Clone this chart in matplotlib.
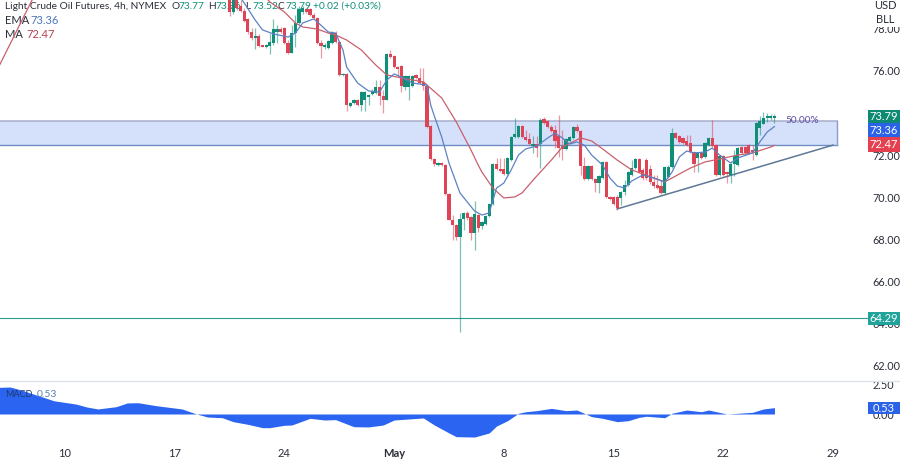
import matplotlib
matplotlib.use("Agg")
import matplotlib.pyplot as plt
from matplotlib.patches import Rectangle
from matplotlib.lines import Line2D

plt.rcParams['font.family'] = ['Lato', 'DejaVu Sans']

first_bar = 45
opens = [79.75,78.80,79.51,79.09,78.85,78.47,77.85,77.57,77.66,77.19,77.14,77.19,77.33,77.85,77.99,78.04,77.33,76.85,77.80,78.28,
         78.80,78.94,78.94,78.66,78.52,77.33,77.14,77.09,77.33,77.80,77.38,75.81,75.86,74.34,74.48,74.62,74.38,74.62,74.76,74.91,
         74.95,75.24,74.81,74.62,76.81,76.71,76.19,76.24,75.24,75.24,75.29,75.81,75.67,75.48,75.29,73.39,71.82,71.53,71.63,71.53,
         70.16,68.92,68.69,68.12,68.97,69.26,69.07,68.30,69.16,68.64,68.73,69.11,69.68,71.58,71.35,71.35,71.11,71.77,72.87,72.87,
         73.39,72.87,72.77,72.44,72.53,72.53,73.72,73.62,73.34,73.20,72.91,72.44,72.30,72.68,72.82,73.34,73.15,71.49,70.87,71.49,
         70.87,70.68,70.92,71.68,70.02,70.02,70.02,69.97,70.25,70.59,71.06,71.39,71.82,71.30,71.77,71.35,70.73,70.59,70.54,70.21,
         70.97,71.44,73.05,72.91,72.82,72.68,72.58,72.15,71.87,72.11,71.92,72.48,72.82,72.48,71.06,71.96,71.20,71.06,71.58,71.53,
         72.39,72.39,72.48,72.25,72.01,73.29,73.48,73.77,73.77,73.77]
highs = [79.90,79.70,79.70,79.37,78.99,78.52,78.04,78.04,77.76,77.23,77.28,77.80,78.47,78.18,78.09,78.09,77.47,78.18,78.66,79.09,
         79.09,78.99,78.99,78.75,78.56,77.47,77.33,77.47,77.90,77.90,77.42,75.90,75.90,74.53,74.67,74.67,75.05,75.05,74.91,75.14,
         75.57,75.57,75.10,76.85,77.00,76.76,76.24,76.28,75.81,75.81,75.81,75.86,76.14,76.14,75.33,73.43,71.87,71.68,71.68,71.58,
         70.21,69.16,68.73,69.26,69.30,69.35,69.11,69.83,69.21,68.88,69.16,69.73,71.63,71.87,71.87,71.87,71.92,72.91,73.77,73.43,
         73.43,73.20,73.06,72.91,72.91,73.77,73.81,73.67,73.43,73.43,73.91,73.20,72.82,72.91,73.39,73.48,73.20,71.92,71.53,71.53,
         70.92,71.06,71.73,71.73,70.06,70.06,70.11,70.30,70.82,71.25,71.77,71.87,71.87,71.39,71.87,71.54,71.06,71.06,70.82,71.49,
         71.54,73.29,73.10,72.96,72.87,72.96,72.96,72.20,72.15,72.15,72.63,72.87,73.67,72.53,72.01,72.01,71.25,71.63,72.25,72.39,
         72.44,72.44,72.53,72.48,73.58,73.86,74.05,74.00,73.96,73.96]
lows = [78.61,78.70,78.90,78.80,78.33,77.76,77.47,77.04,77.14,77.14,77.09,76.81,77.23,77.33,77.80,77.28,76.81,76.85,77.14,78.23,
        78.71,78.75,78.61,78.47,77.28,76.62,77.04,77.04,77.28,77.33,75.76,75.76,74.10,74.29,74.43,74.34,74.10,74.10,74.38,74.86,
        74.91,74.38,74.00,74.62,76.62,76.14,75.76,75.00,75.10,74.62,75.24,75.62,75.38,75.10,73.29,71.77,71.49,71.49,71.49,70.11,
        68.92,67.97,67.97,63.61,68.45,68.92,67.97,67.50,68.35,68.50,68.69,69.07,69.64,71.30,71.20,71.06,71.06,71.73,72.82,72.82,
        72.82,72.68,72.48,72.11,71.92,71.39,73.48,73.29,73.10,72.34,71.92,71.77,72.25,72.63,72.77,73.10,71.06,70.82,70.82,70.82,
        70.25,70.21,70.87,69.97,69.87,69.64,69.40,69.64,70.11,70.54,71.01,71.35,71.16,70.82,70.82,70.63,70.44,70.40,70.16,70.16,
        70.92,71.39,72.77,72.58,72.53,72.44,72.11,71.20,71.20,71.82,71.87,72.44,72.39,71.01,71.01,71.01,70.68,70.68,71.01,71.49,
        72.06,72.01,72.06,71.77,71.96,72.96,73.48,73.58,73.67,73.52]
closes = [78.80,79.46,78.99,78.85,78.37,77.85,77.57,77.66,77.19,77.14,77.23,77.38,77.99,77.99,77.85,77.33,76.85,77.80,78.28,78.94,
          78.99,78.80,78.66,78.52,77.33,77.19,77.23,77.42,77.80,77.38,75.81,75.86,74.38,74.48,74.62,74.38,75.00,75.00,74.86,75.00,
          75.24,74.81,74.62,76.81,76.66,76.19,76.09,75.29,75.76,75.76,75.76,75.67,75.43,75.29,73.34,71.82,71.58,71.63,71.53,70.16,
          68.92,68.69,68.12,68.97,69.26,69.02,68.30,69.21,68.54,68.83,69.11,69.68,71.58,71.35,71.25,71.11,71.87,72.87,73.01,73.39,
          72.87,72.72,72.53,72.53,72.34,73.67,73.53,73.34,73.15,72.68,72.34,72.30,72.77,72.87,73.34,73.15,71.49,70.87,71.49,70.87,
          70.68,71.01,71.68,70.02,69.92,69.68,69.49,70.25,70.59,71.20,71.39,71.82,71.20,70.92,70.92,70.73,70.54,70.44,70.21,71.44,
          71.44,73.05,72.82,72.63,72.58,72.48,72.15,71.58,72.11,71.87,72.58,72.82,72.44,71.06,71.96,71.06,71.11,71.58,71.96,72.34,
          72.11,72.11,72.11,72.15,73.53,73.62,73.77,73.81,73.81,73.79]

ma_bars = [-18,-9,-7,10,30,50,56,60,63,65,69,72,74,77,81,85,88,92,98,103,107,111,113,114,117,120,123,125,128,133,136,141,144,147,151,155,158,164,166,171,175,179,184,188,193,194]
ma_vals = [76.24,79.37,80.5,82.5,83.0,80.5,79.28,78.80,78.28,78.09,77.99,77.80,77.71,77.47,77.00,76.28,75.81,75.67,75.48,74.72,73.58,72.25,71.53,71.20,70.44,69.97,70.02,70.21,70.82,71.77,72.39,72.82,72.68,72.30,71.77,71.30,71.11,70.73,70.92,71.39,71.68,71.82,72.01,72.11,72.39,72.47]
ema_bars = [44,49,52,54,57,61,63,65,68,69,72,74,76,77,80,83,86,88,90,92,95,99,100,101,103,105,108,112,114,116,118,120,122,124,126,129,132,134,136,138,140,142,144,147,149,151,153,155,158,161,164,166,168,170,172,175,177,179,182,184,188,190,192,194]
ema_vals = [80.5,79.23,78.42,77.95,77.76,77.61,77.80,78.28,78.47,78.33,77.85,77.80,77.00,76.19,75.43,75.05,75.00,75.57,75.86,75.71,75.43,75.33,74.38,73.86,72.87,71.63,70.21,69.35,69.16,69.26,70.44,70.68,71.30,72.01,72.30,72.44,72.82,73.05,72.82,72.53,72.63,72.48,72.01,71.53,70.92,70.54,70.44,70.78,71.06,70.92,70.73,71.20,71.92,72.20,72.11,72.15,72.34,72.01,71.63,71.87,72.11,72.63,73.10,73.36]

macd_bars = [-18,-15,-12,-7,-3,3,6,9,14,17,20,25,32,36,39,43,46,50,54,56,60,62,67,71,74,79,83,87,90,98,101,105,107,112,116,118,121,124,126,129,133,137,140,144,147,151,154,157,159,164,166,170,174,176,181,184,188,191,194]
macd_vals = [2.22,2.25,2.0,1.5,1.1,0.83,0.58,0.42,0.61,0.92,0.94,0.69,0.42,0.0,-0.25,-0.31,-0.64,-0.86,-1.14,-1.14,-0.94,-0.92,-0.36,-0.5,-0.47,-1.06,-1.08,-0.92,-0.5,-0.33,-0.92,-1.58,-1.89,-1.92,-1.58,-1.0,-0.56,0.06,0.19,0.28,0.47,0.28,0.33,-0.22,-0.36,-0.64,-0.56,-0.28,-0.19,-0.31,0.06,0.33,0.19,0.33,0.0,0.06,0.14,0.42,0.53]

week_bars = [0,30,60,90,120,150,180,210]
week_labels = ['10','17','24','May','8','15','22','29']
price_ticks = [62,64,66,68,70,72,74,76,78]
macd_ticks = [0.0,2.5]
zone_top, zone_bottom, zone_end = 73.62, 72.48, 211
trend_bars, trend_vals = [151,210], [69.45,72.48]
support = 64.29

W, H = 900, 461
GREEN, RED, BLUE = '#0f8f78', '#dd4456', '#2962ff'
TXT = '#2a2e39'

fig = plt.figure(figsize=(9, 4.61), dpi=100, facecolor='white')
px_per_bar = 3.657
x0 = -65 / px_per_bar
x1 = (868 - 65) / px_per_bar
ax = fig.add_axes([0, (H - 381) / H, 868 / W, 381 / H])
mx = fig.add_axes([0, (H - 444) / H, 868 / W, 63 / H], sharex=ax)
ax.set_xlim(x0, x1)
ax.set_ylim(79.37 - 0.04748 * 381, 79.37)
mx.set_ylim(-2.5, 2.75)

for a in (ax, mx):
    for s in a.spines.values():
        s.set_visible(False)
    a.yaxis.tick_right()
    a.tick_params(axis='y', length=0, pad=3.5, labelsize=7.8, labelcolor=TXT)

# zone, lines
ax.add_patch(Rectangle((x0 - 5, zone_bottom), zone_end - x0 + 5, zone_top - zone_bottom,
                       facecolor='#d5e1fb', edgecolor='none', zorder=1))
ax.plot([x0 - 5, zone_end], [zone_top, zone_top], color='#a7aeca', lw=1.1, zorder=1.5)
ax.plot([x0 - 5, zone_end], [zone_bottom, zone_bottom], color='#6f8fc4', lw=1.0, zorder=1.5)
ax.plot([zone_end, zone_end], [zone_bottom, zone_top], color='#8d9ec4', lw=1.0, zorder=1.5)
ax.plot(trend_bars, trend_vals, color='#5f7896', lw=1.1, zorder=2)
ax.axhline(support, color='#2a9d94', lw=0.8, zorder=2)
ax.text(201.5, 73.67, '50.00%', color='#5d4ea6', fontsize=7.2, ha='center', va='center', zorder=2.5)

# candles
bars = list(range(first_bar, first_bar + len(opens)))
for b, o, h, l, c in zip(bars, opens, highs, lows, closes):
    col = GREEN if c >= o else RED
    ax.plot([b, b], [l, h], color=col, lw=0.9, alpha=0.55, solid_capstyle='butt', zorder=3)
    ax.bar(b, max(abs(c - o), 0.07), bottom=min(o, c), width=0.88, color=col, linewidth=0, zorder=4)

ax.plot(ma_bars, ma_vals, color='#c9606d', lw=0.9, zorder=5)
ax.plot(ema_bars, ema_vals, color='#5b82c4', lw=0.9, zorder=5)

ax.set_yticks(price_ticks)
ax.set_yticklabels([f'{v:.2f}' for v in price_ticks])
ax.tick_params(axis='x', length=0, labelbottom=False)

# MACD
mx.fill_between(macd_bars, macd_vals, 0, color='#2a64f0', linewidth=0, zorder=2)
mx.set_yticks(macd_ticks)
mx.set_yticklabels([f'{v:.2f}' for v in macd_ticks])
mx.set_xticks(week_bars)
mx.set_xticklabels(week_labels)
mx.tick_params(axis='x', length=0, pad=3, labelsize=8, labelcolor=TXT)
mx.get_xticklabels()[3].set_fontweight('bold')

def put(x, y, s, color=TXT, size=7.3, target=ax, z=2, **kw):
    target.text(x / W, 1 - y / H, s, color=color, fontsize=size, transform=fig.transFigure,
                va='center', zorder=z, clip_on=False, **kw)

put(5, 6.5, 'Light Crude Oil Futures, 4h, NYMEX')
for x, lab, val in [(171, 'O', '73.77'), (208, 'H', '73.96'), (245, 'L', '73.52'), (278, 'C', '73.79')]:
    put(x, 6.5, lab)
    put(x + 7, 6.5, val, color=GREEN)
put(313, 6.5, '+0.02 (+0.03%)', color=GREEN)
put(5, 20, 'EMA', size=8)
put(30, 20, '73.36', color='#4a76b8', size=8)
put(5, 34, 'MA', size=8)
put(26, 34, '72.47', color='#b8404f', size=8)
put(5, 394, 'MACD', color='#1f3a70', z=6, target=fig, size=6.5)
put(37, 394, '0.53', color='#5a80b8', z=6, target=fig, size=7.5)

# separator
fig.add_artist(Line2D([0, 1], [1 - 381 / H, 1 - 381 / H], color='#e0e3eb', lw=1, transform=fig.transFigure))

def box(y0, y1, text, color):
    fig.add_artist(Rectangle((868 / W, 1 - y1 / H), 32 / W, (y1 - y0) / H, facecolor=color,
                             edgecolor='none', transform=fig.transFigure, zorder=8))
    fig.text(884 / W, 1 - (y0 + y1) / 2 / H, text, color='white', fontsize=8, ha='center',
             va='center', zorder=9)

box(110, 123, '73.79', '#0f8a72')
box(123, 137, '73.36', '#2a62e8')
box(137, 152, '72.47', '#e4404f')
box(312, 325, '64.29', '#1fa39a')
box(402, 414, '0.53', '#2a62e8')

fig.add_artist(Rectangle((868 / W, 1 - 27 / H), 32 / W, 27 / H, facecolor='white', edgecolor='none',
                         transform=fig.transFigure, zorder=7))
fig.text(885 / W, 1 - 5.5 / H, 'USD', color=TXT, fontsize=8, ha='center', va='center', zorder=9)
fig.text(885 / W, 1 - 19.5 / H, 'BLL', color=TXT, fontsize=8, ha='center', va='center', zorder=9)

fig.savefig('out.png', dpi=100, facecolor='white')
